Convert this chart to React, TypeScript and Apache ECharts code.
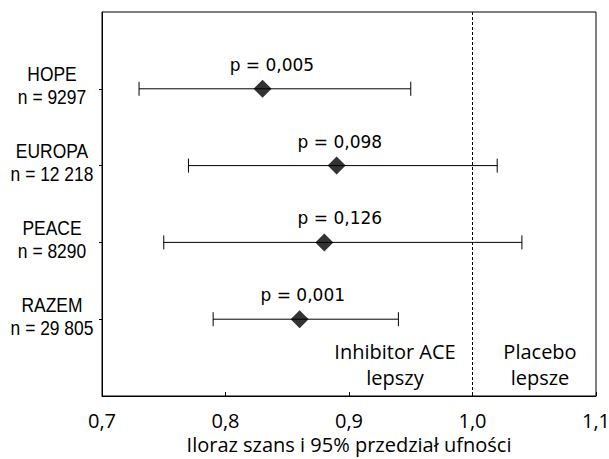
import React, { useEffect, useRef } from "react";
import * as echarts from "echarts";

const studies = ["HOPE", "EUROPA", "PEACE", "RAZEM"];
const sampleSizes = ["9297", "12 218", "8290", "29 805"];
const oddsRatios = [0.83, 0.89, 0.88, 0.86];
const lowerCI = [0.73, 0.77, 0.75, 0.79];
const upperCI = [0.95, 1.02, 1.04, 0.94];
const pValues = ["0,005", "0,098", "0,126", "0,001"];

const rowPos = studies.map((_, i) => i + 1);

export default function App() {
  const ref = useRef<HTMLDivElement>(null);
  useEffect(() => {
    if (!ref.current) return;
    const chart = echarts.init(ref.current, null, { renderer: "svg" });
    const errData = studies.map((_, i) => [lowerCI[i], upperCI[i], rowPos[i], pValues[i]]);
    const pointData = studies.map((_, i) => [oddsRatios[i], rowPos[i]]);
    const labelData = studies.map((_, i) => [0.7, rowPos[i], studies[i] + "\nn = " + sampleSizes[i]]);
    chart.setOption({
      animation: false,
      backgroundColor: "#ffffff",
      grid: {
        left: 102,
        right: 13,
        top: 12,
        bottom: 63,
        show: true,
        borderColor: "#000",
        borderWidth: 1,
        outerBoundsMode: "none",
        containLabel: false,
      },
      xAxis: {
        type: "value",
        min: 0.7,
        max: 1.1,
        interval: 0.1,
        name: "Iloraz szans i 95% przedział ufności",
        nameLocation: "middle",
        nameGap: 35,
        nameTextStyle: { fontFamily: "'Open Sans', sans-serif", fontSize: 20, color: "#000" },
        axisLine: { show: true, onZero: false, lineStyle: { color: "#000", width: 1 } },
        axisTick: { show: true, inside: true, length: 4, lineStyle: { color: "#000" } },
        axisLabel: {
          fontFamily: "'Open Sans', sans-serif",
          fontSize: 20,
          color: "#000",
          margin: 14,
          formatter: (v: number) => v.toFixed(1).replace(".", ","),
        },
        splitLine: { show: false },
      },
      yAxis: {
        type: "value",
        min: 0,
        max: 5,
        interval: 1,
        inverse: true,
        axisLine: { show: true, onZero: false, lineStyle: { color: "#000", width: 1 } },
        axisTick: { show: true, length: 3, customValues: rowPos, lineStyle: { color: "#000" } },
        axisLabel: { show: false },
        splitLine: { show: false },
      },
      series: [
        {
          type: "custom",
          data: labelData,
          clip: false,
          silent: true,
          renderItem: (params: any, api: any) => {
            const pt = api.coord([api.value(0), api.value(1)]);
            return {
              type: "text",
              x: pt[0] - 50,
              y: pt[1] - 3,
              scaleX: 0.83,
              style: {
                text: labelData[params.dataIndex][2] as string,
                fontFamily: "'Liberation Sans', Arial, sans-serif",
                fontSize: 21,
                lineHeight: 23,
                fill: "#000",
                align: "center",
                verticalAlign: "middle",
              },
            };
          },
        },
        {
          type: "custom",
          data: errData,
          renderItem: (params: any, api: any) => {
            const lo = api.coord([api.value(0), api.value(2)]);
            const hi = api.coord([api.value(1), api.value(2)]);
            const y = lo[1];
            const cap = 7;
            const p = errData[params.dataIndex][3];
            return {
              type: "group",
              children: [
                { type: "line", shape: { x1: lo[0], y1: y, x2: hi[0], y2: y }, style: { stroke: "#000", lineWidth: 1 } },
                { type: "line", shape: { x1: lo[0], y1: y - cap, x2: lo[0], y2: y + cap }, style: { stroke: "#000", lineWidth: 1 } },
                { type: "line", shape: { x1: hi[0], y1: y - cap, x2: hi[0], y2: y + cap }, style: { stroke: "#000", lineWidth: 1 } },
                {
                  type: "text",
                  x: (lo[0] + hi[0]) / 2 - 3,
                  y: y - 24,
                  style: {
                    text: "p = " + p,
                    fontFamily: "'DejaVu Sans', sans-serif",
                    fontSize: 17,
                    fill: "#000",
                    align: "center",
                    verticalAlign: "middle",
                  },
                },
              ],
            };
          },
          z: 2,
        },
        {
          type: "scatter",
          data: pointData,
          symbol: "diamond",
          symbolSize: 18,
          itemStyle: { color: "#000" },
          z: 3,
          markLine: {
            silent: true,
            symbol: ["none", "none"],
            label: { show: false },
            lineStyle: { color: "#000", type: [3, 2], width: 1 },
            data: [{ xAxis: 1.0 }],
          },
        },
      ],
      graphic: [
        {
          type: "text",
          x: 395,
          y: 364,
          style: {
            text: "Inhibitor ACE\nlepszy",
            fontFamily: "'Open Sans', sans-serif",
            fontSize: 20,
            lineHeight: 26,
            fill: "#000",
            align: "center",
            verticalAlign: "middle",
          },
        },
        {
          type: "text",
          x: 540,
          y: 364,
          style: {
            text: "Placebo\nlepsze",
            fontFamily: "'Open Sans', sans-serif",
            fontSize: 20,
            lineHeight: 26,
            fill: "#000",
            align: "center",
            verticalAlign: "middle",
          },
        },
      ],
    });
    return () => chart.dispose();
  }, []);
  return <div ref={ref} style={{ width: 609, height: 459, position: "absolute", left: 0, top: 0 }} />;
}
